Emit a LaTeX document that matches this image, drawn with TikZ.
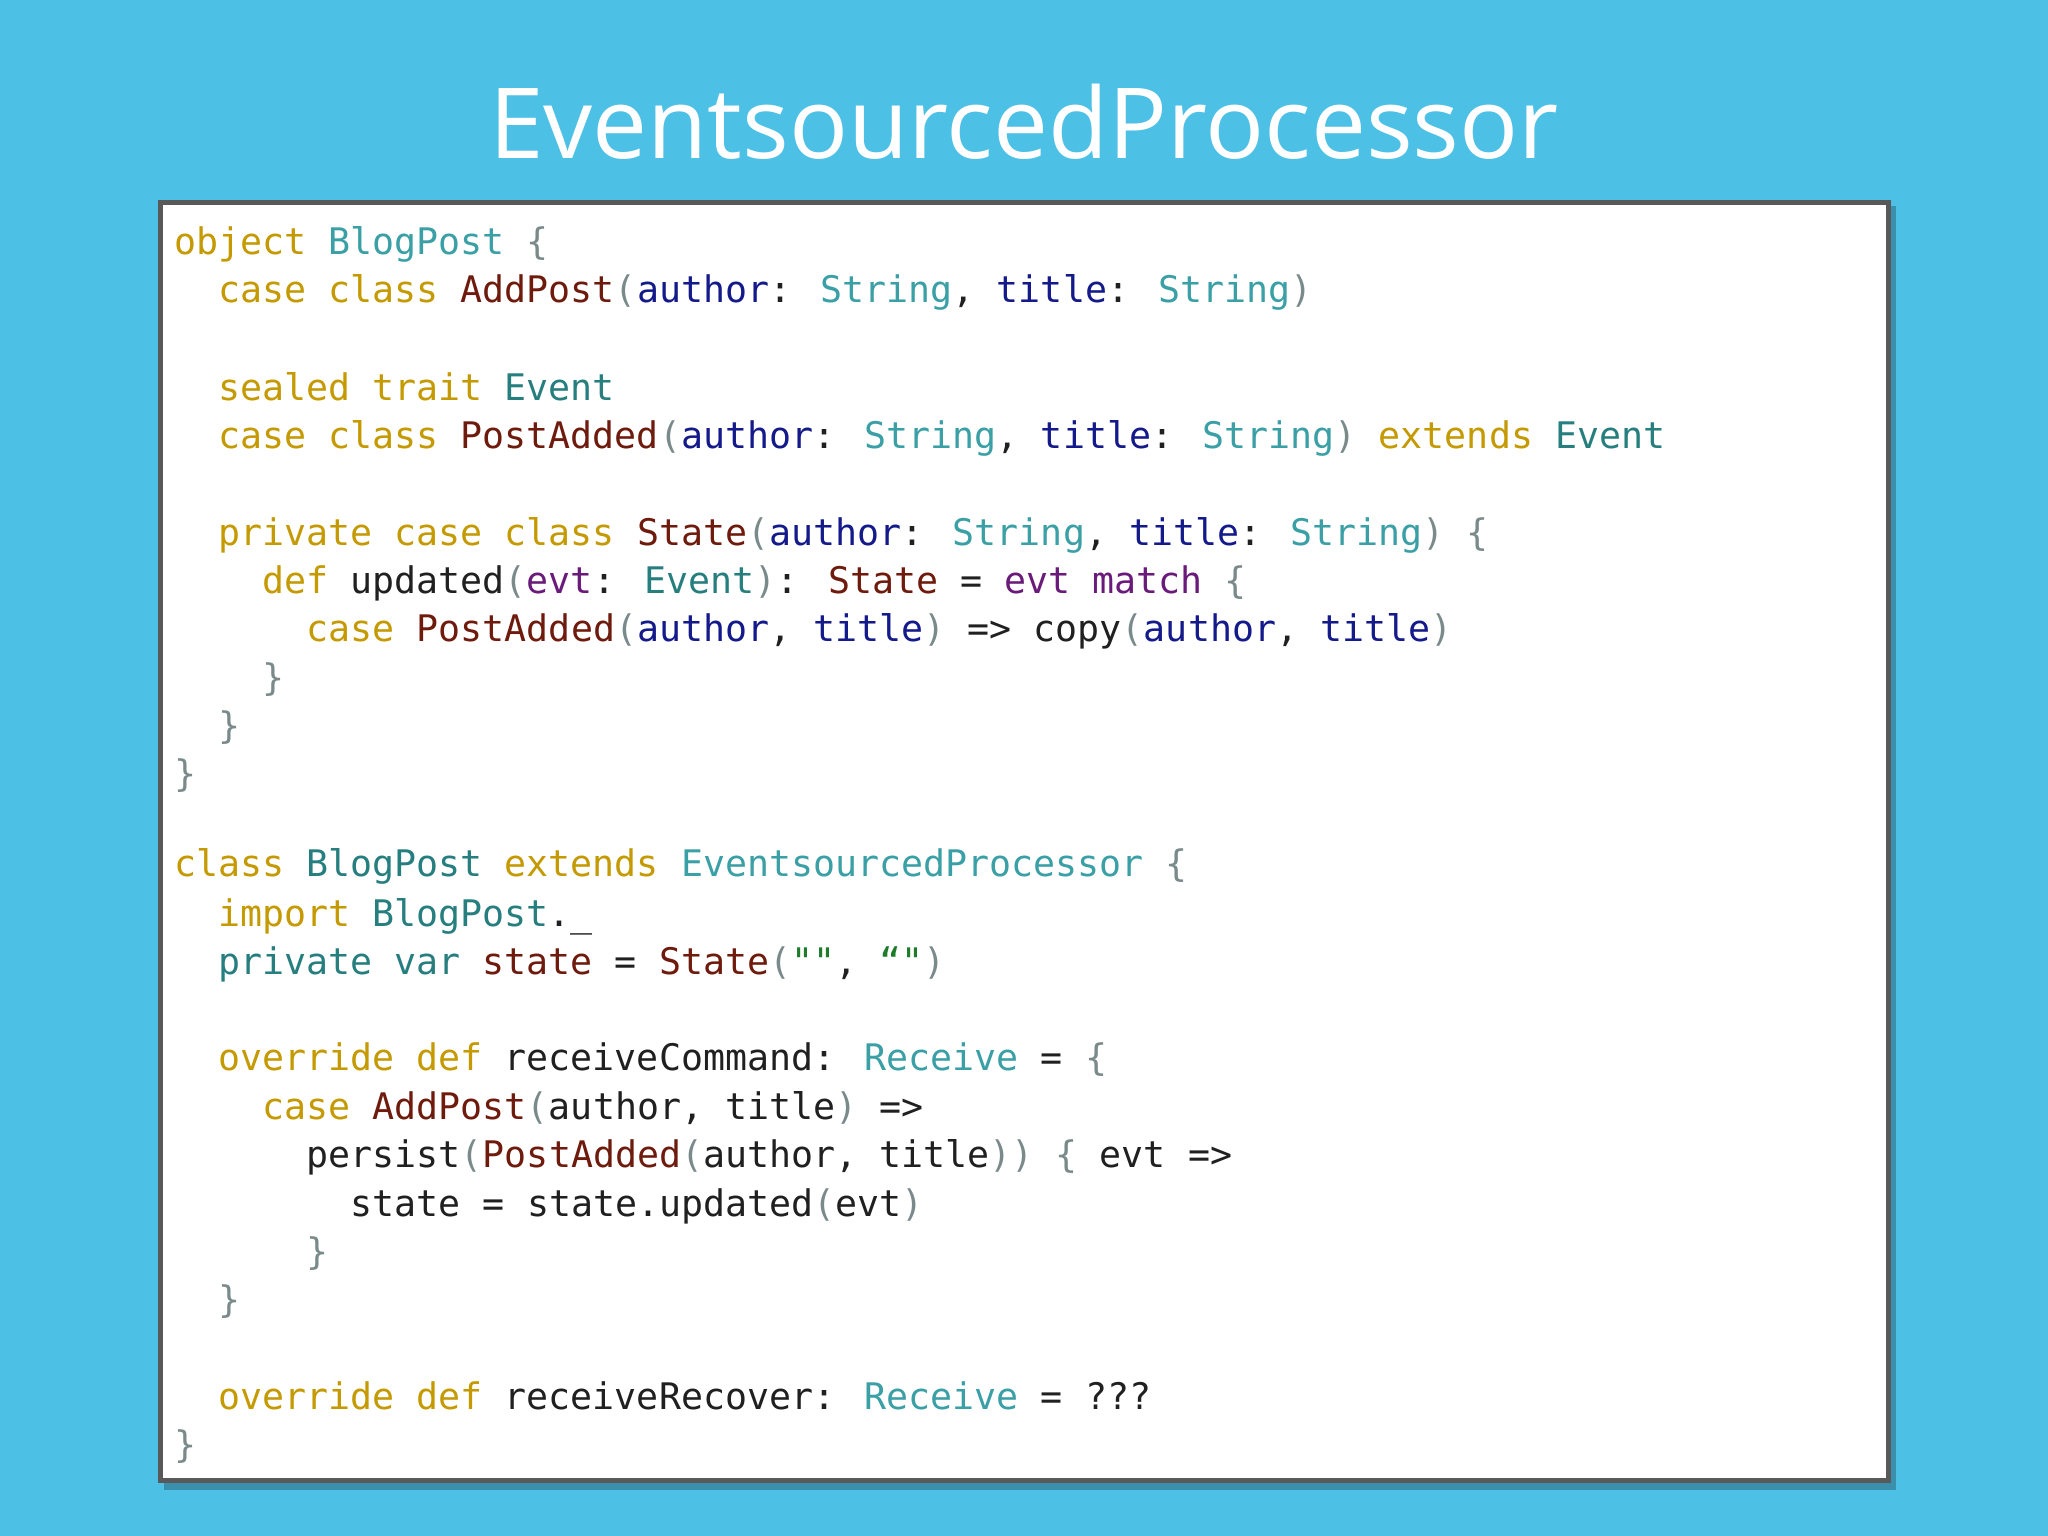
\documentclass[tikz,border=0pt]{standalone}
\usepackage{fontspec}
\setmainfont{Open Sans}
\newfontfamily\codefont{DejaVu Sans Mono}
\definecolor{bgc}{HTML}{4DC0E6}
\definecolor{kw}{HTML}{C49A00}
\definecolor{ty}{HTML}{3AA0A6}
\definecolor{tyd}{HTML}{267E7E}
\definecolor{nm}{HTML}{6E1A0C}
\definecolor{pa}{HTML}{141A8A}
\definecolor{pu}{HTML}{7A8A8A}
\definecolor{st}{HTML}{1E7B2A}
\definecolor{ev}{HTML}{6A1B7A}
\definecolor{pl}{HTML}{202020}
\newcommand\K[1]{\textcolor{kw}{#1}}
\newcommand\T[1]{\textcolor{ty}{#1}}
\newcommand\D[1]{\textcolor{tyd}{#1}}
\newcommand\N[1]{\textcolor{nm}{#1}}
\newcommand\A[1]{\textcolor{pa}{#1}}
\newcommand\U[1]{\textcolor{pu}{#1}}
\newcommand\Sg[1]{\textcolor{st}{#1}}
\newcommand\E[1]{\textcolor{ev}{#1}}
\begin{document}
\begin{tikzpicture}[x=1pt,y=1pt,
  cl/.style={anchor=base west,inner sep=0pt,font=\codefont\fontsize{36.6}{40}\selectfont,text=pl}]
\fill[bgc] (0,0) rectangle (2048,-1536);
\useasboundingbox (0,0) rectangle (2048,-1536);
\node[font=\fontsize{98}{110}\selectfont,text=white,anchor=base] (title) at (1024,-158) {EventsourcedProcessor};
\fill[black,opacity=0.25] (164,-206) rectangle (1896,-1490);
\draw[line width=5pt,draw=black!65,fill=white] (160,-202) rectangle (1888,-1480);
\def\cx#1{174+#1*22.07}
\node[cl] (l1) at ({\cx{0}},-254) {\K{object} \T{BlogPost} \U{\{}};
\node[cl] (l2) at ({\cx{2}},-302) {\K{case class} \N{AddPost}\U{(}\A{author}: \T{String}, \A{title}: \T{String}\U{)}};
\node[cl] (l3) at ({\cx{2}},-400) {\K{sealed trait} \D{Event}};
\node[cl] (l4) at ({\cx{2}},-448) {\K{case class} \N{PostAdded}\U{(}\A{author}: \T{String}, \A{title}: \T{String}\U{)} \K{extends} \D{Event}};
\node[cl] (l5) at ({\cx{2}},-545) {\K{private case class} \N{State}\U{(}\A{author}: \T{String}, \A{title}: \T{String}\U{)} \U{\{}};
\node[cl] (l6) at ({\cx{4}},-593) {\K{def} updated\U{(}\E{evt}: \D{Event}\U{)}: \N{State} = \E{evt} \E{match} \U{\{}};
\node[cl] (l7) at ({\cx{6}},-641) {\K{case} \N{PostAdded}\U{(}\A{author}, \A{title}\U{)} => copy\U{(}\A{author}, \A{title}\U{)}};
\node[cl] (l8) at ({\cx{4}},-690) {\U{\}}};
\node[cl] (l9) at ({\cx{2}},-738) {\U{\}}};
\node[cl] (l10) at ({\cx{0}},-786) {\U{\}}};
\node[cl] (l11) at ({\cx{0}},-876) {\K{class} \D{BlogPost} \K{extends} \T{EventsourcedProcessor} \U{\{}};
\node[cl] (l12) at ({\cx{2}},-926) {\K{import} \D{BlogPost}.\_};
\node[cl] (l13) at ({\cx{2}},-974) {\D{private} \D{var} \N{state} = \N{State}\U{(}\Sg{""}, \Sg{“"}\U{)}};
\node[cl] (l14) at ({\cx{2}},-1070) {\K{override def} receiveCommand: \T{Receive} = \U{\{}};
\node[cl] (l15) at ({\cx{4}},-1119) {\K{case} \N{AddPost}\U{(}author, title\U{)} =>};
\node[cl] (l16) at ({\cx{6}},-1167) {persist\U{(}\N{PostAdded}\U{(}author, title\U{))} \U{\{} evt =>};
\node[cl] (l17) at ({\cx{8}},-1216) {state = state.updated\U{(}evt\U{)}};
\node[cl] (l18) at ({\cx{6}},-1264) {\U{\}}};
\node[cl] (l19) at ({\cx{2}},-1312) {\U{\}}};
\node[cl] (l20) at ({\cx{2}},-1409) {\K{override def} receiveRecover: \T{Receive} = ???};
\node[cl] (l21) at ({\cx{0}},-1457) {\U{\}}};
\end{tikzpicture}
\end{document}
